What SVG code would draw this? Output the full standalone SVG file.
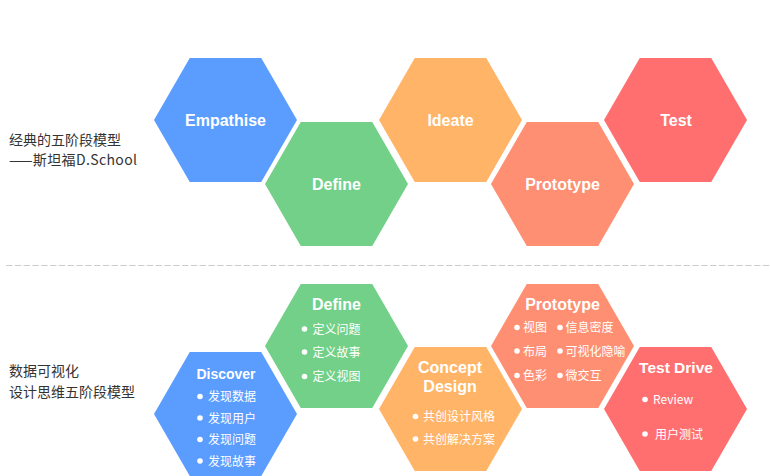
<svg xmlns="http://www.w3.org/2000/svg" width="770" height="476" viewBox="0 0 770 476">
<style>
.lbl{font-family:"Noto Sans CJK SC","Liberation Sans",sans-serif;font-size:14px;fill:#333}
.t{font-family:"Liberation Sans",Arial,sans-serif;font-weight:bold;font-size:16px;fill:#fff;text-anchor:middle}
.b{font-family:"Noto Sans CJK SC","Liberation Sans",sans-serif;font-size:12px;fill:#fff}
.blue{fill:#5b9dff}.green{fill:#72d088}.orange{fill:#ffb467}.salmon{fill:#ff8f72}.red{fill:#ff6f6f}
.dot{fill:#fff}
</style>
<defs>
<polygon id="hex" points="-71.5,0 -35.75,-62 35.75,-62 71.5,0 35.75,62 -35.75,62"/>
</defs>
<g id="labels">
<text class="lbl" x="9" y="145">经典的五阶段模型</text>
<text class="lbl" x="9" y="165" textLength="128" lengthAdjust="spacing">——斯坦福D.School</text>
<text class="lbl" x="9" y="376">数据可视化</text>
<text class="lbl" x="9" y="397">设计思维五阶段模型</text>
</g>
<g id="connectors">
<line x1="6" y1="265.5" x2="770" y2="265.5" stroke="#cccccc" stroke-width="1" stroke-dasharray="6.5 2.3"/>
</g>
<g id="top-empathise"><use href="#hex" class="blue" transform="translate(225.5,120)"/><text class="t" x="225.5" y="126">Empathise</text></g>
<g id="top-define"><use href="#hex" class="green" transform="translate(336.5,184)"/><text class="t" x="336.5" y="190">Define</text></g>
<g id="top-ideate"><use href="#hex" class="orange" transform="translate(450.5,120)"/><text class="t" x="450.5" y="126">Ideate</text></g>
<g id="top-prototype"><use href="#hex" class="salmon" transform="translate(562.5,184)"/><text class="t" x="562.5" y="190">Prototype</text></g>
<g id="top-test"><use href="#hex" class="red" transform="translate(675.5,120)"/><text class="t" x="676" y="126">Test</text></g>

<g id="bot-discover"><use href="#hex" class="blue" transform="translate(225.5,414)"/>
<text class="t" x="226" y="378.5" style="font-size:14px">Discover</text>
<circle class="dot" cx="200" cy="396.5" r="2.8"/><text class="b" x="208" y="401">发现数据</text>
<circle class="dot" cx="200" cy="418" r="2.8"/><text class="b" x="208" y="422.5">发现用户</text>
<circle class="dot" cx="200" cy="439.5" r="2.8"/><text class="b" x="208" y="444">发现问题</text>
<circle class="dot" cx="200" cy="461" r="2.8"/><text class="b" x="208" y="465.5">发现故事</text>
</g>
<g id="bot-define"><use href="#hex" class="green" transform="translate(336.5,346)"/>
<text class="t" x="336.5" y="310">Define</text>
<circle class="dot" cx="304.5" cy="329" r="2.8"/><text class="b" x="312.5" y="333.5">定义问题</text>
<circle class="dot" cx="304.5" cy="352" r="2.8"/><text class="b" x="312.5" y="356.5">定义故事</text>
<circle class="dot" cx="304.5" cy="376.5" r="2.8"/><text class="b" x="312.5" y="381">定义视图</text>
</g>
<g id="bot-concept"><use href="#hex" class="orange" transform="translate(450.5,409)"/>
<text class="t" x="450" y="373">Concept</text>
<text class="t" x="450" y="392">Design</text>
<circle class="dot" cx="415.5" cy="416.5" r="2.8"/><text class="b" x="423" y="421">共创设计风格</text>
<circle class="dot" cx="415.5" cy="439" r="2.8"/><text class="b" x="423" y="443.5">共创解决方案</text>
</g>
<g id="bot-prototype"><use href="#hex" class="salmon" transform="translate(562.5,346)"/>
<text class="t" x="562.5" y="310">Prototype</text>
<circle class="dot" cx="517" cy="327.5" r="2.8"/><text class="b" x="523" y="332">视图</text>
<circle class="dot" cx="560" cy="327.5" r="2.8"/><text class="b" x="565.5" y="332">信息密度</text>
<circle class="dot" cx="517" cy="351" r="2.8"/><text class="b" x="523" y="355.5">布局</text>
<circle class="dot" cx="560" cy="351" r="2.8"/><text class="b" x="565.5" y="355.5">可视化隐喻</text>
<circle class="dot" cx="517" cy="375.5" r="2.8"/><text class="b" x="523" y="380">色彩</text>
<circle class="dot" cx="560" cy="375.5" r="2.8"/><text class="b" x="565.5" y="380">微交互</text>
</g>
<g id="bot-testdrive"><use href="#hex" class="red" transform="translate(675.5,409)"/>
<text class="t" x="676" y="373" style="font-size:15.5px">Test Drive</text>
<circle class="dot" cx="645" cy="399.5" r="2.8"/><text class="b" x="653" y="404">Review</text>
<circle class="dot" cx="645" cy="434" r="2.8"/><text class="b" x="655" y="438.5">用户测试</text>
</g>
</svg>
